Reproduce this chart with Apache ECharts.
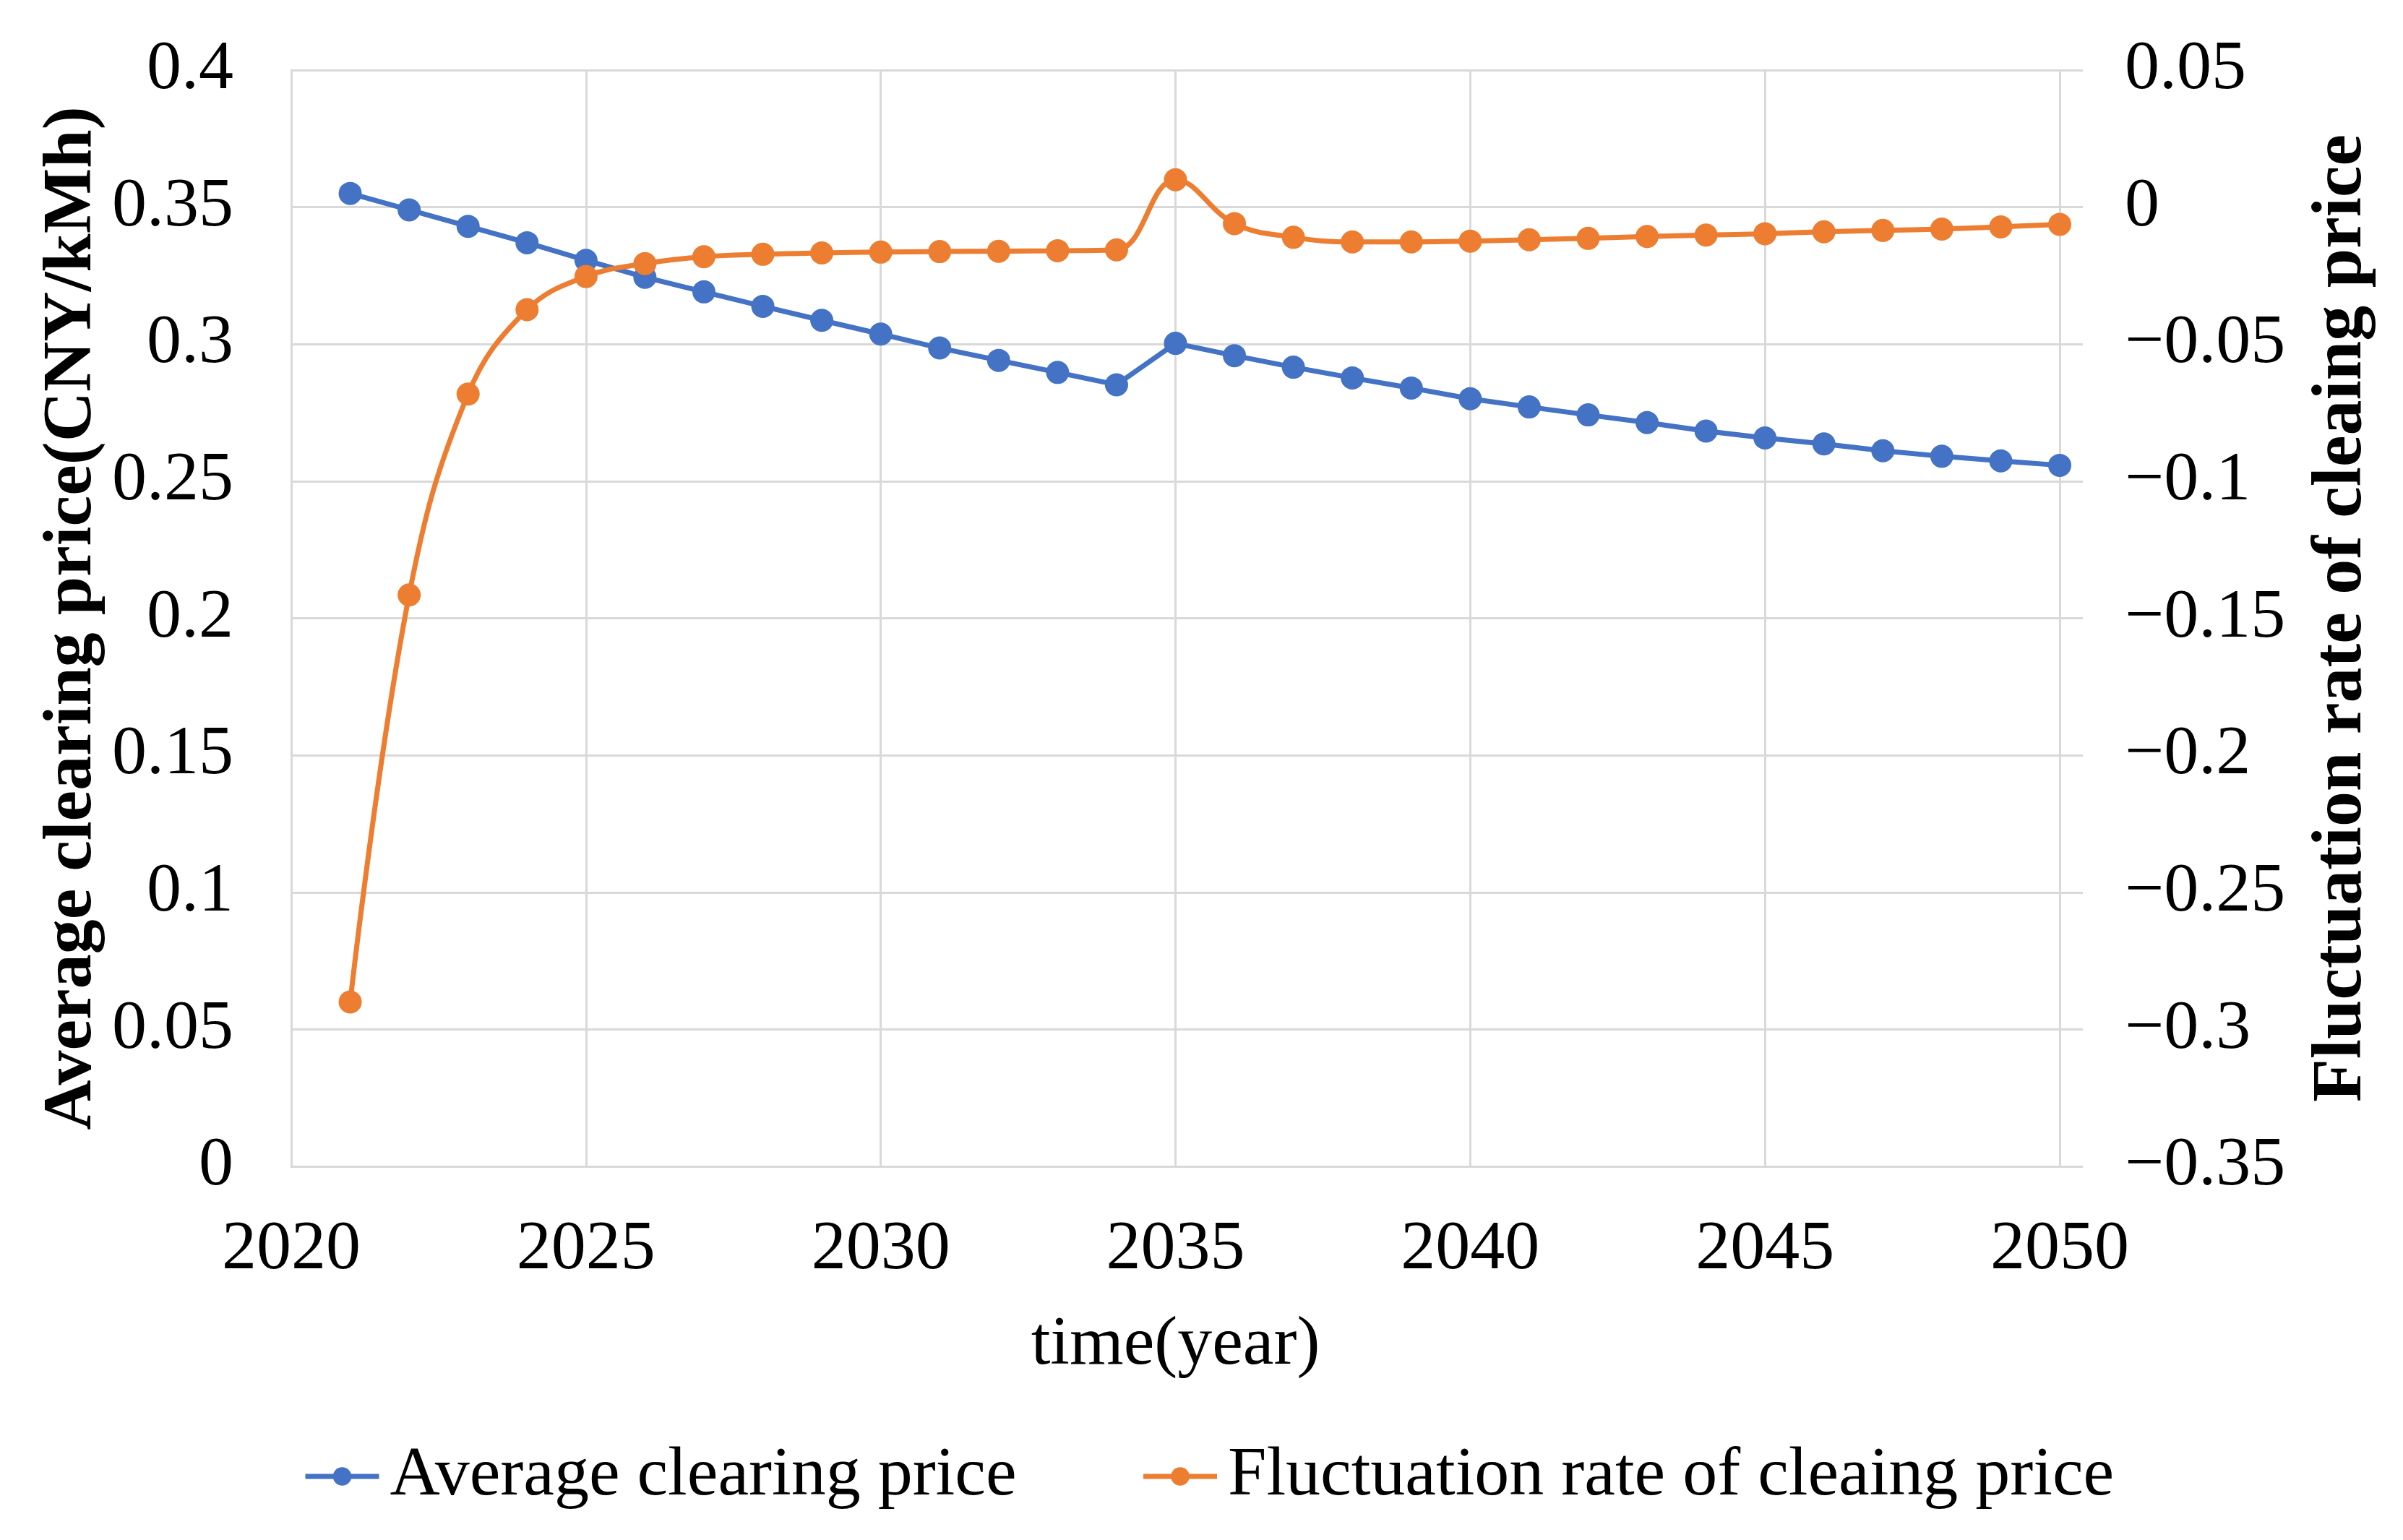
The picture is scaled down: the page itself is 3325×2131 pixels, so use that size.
<!DOCTYPE html>
<html>
<head>
<meta charset="utf-8">
<script src="https://cdn.jsdelivr.net/npm/echarts@6/dist/echarts.min.js"></script>
<style>
html,body{margin:0;padding:0;background:#fff;}
#chart{width:3325px;height:2131px;}
</style>
</head>
<body>
<div id="chart"></div>
<script>
const years = [2021,2022,2023,2024,2025,2026,2027,2028,2029,2030,2031,2032,2033,2034,2035,2036,2037,2038,2039,2040,2041,2042,2043,2044,2045,2046,2047,2048,2049,2050];
const avgPrice = [0.355,0.349,0.343,0.337,0.3306,0.3244,0.3191,0.3138,0.3087,0.3037,0.2986,0.2941,0.2897,0.2852,0.3003,0.2958,0.2916,0.2877,0.2840,0.2801,0.2771,0.2742,0.2714,0.2683,0.2658,0.2636,0.2611,0.2591,0.2574,0.2558];
const fluctRate = [-0.290,-0.1415,-0.0682,-0.0374,-0.0253,-0.0206,-0.0181,-0.0172,-0.0167,-0.0164,-0.0162,-0.0161,-0.0159,-0.0156,0.0100,-0.0060,-0.0110,-0.0127,-0.0127,-0.0124,-0.0119,-0.0114,-0.0107,-0.0102,-0.0097,-0.0090,-0.0085,-0.0080,-0.0072,-0.0063];
const seriesNames = ['Average clearing price','Fluctuation rate of cleaing price'];
const xTitle = 'time(year)';
const leftTitle = 'Average clearing price(CNY/kMh)';
const rightTitle = 'Fluctuation rate of cleaing price';

const FONT = "'Liberation Serif','Times New Roman',serif";
const GRID = '#D9D9D9';
const BLUE = '#4472C4', ORANGE = '#ED7D31';
function fmt(v){
  const s = String(parseFloat(v.toFixed(2)));
  return s.replace('-', '\u2212');
}
const chart = echarts.init(document.getElementById('chart'));
chart.setOption({
  backgroundColor:'#fff',
  animation:false,
  textStyle:{fontFamily:FONT},
  grid:{left:403,right:475,top:97,bottom:517,containLabel:false},
  legend:{
    data:[
      {name:seriesNames[0], itemStyle:{color:BLUE}, lineStyle:{color:BLUE,width:7}},
      {name:seriesNames[1], itemStyle:{color:ORANGE}, lineStyle:{color:ORANGE,width:7}}
    ],
    left:414, top:1990,
    itemWidth:102, itemHeight:32, itemGap:172,
    textStyle:{fontFamily:FONT,fontSize:96,color:'#000',padding:[0,0,0,10]}
  },
  xAxis:{
    type:'value', min:2020, max:2050, interval:5,
    name:xTitle, nameLocation:'middle', nameGap:200,
    nameTextStyle:{fontFamily:FONT,fontSize:96,color:'#000'},
    axisLine:{show:true,lineStyle:{color:GRID,width:3}},
    axisTick:{show:false},
    axisLabel:{fontFamily:FONT,fontSize:96,color:'#000',margin:68,formatter:v=>String(v)},
    splitLine:{show:true,lineStyle:{color:GRID,width:3}}
  },
  yAxis:[{
    type:'value', min:0, max:0.4, interval:0.05, position:'left',
    name:leftTitle, nameLocation:'middle', nameGap:255, nameRotate:90,
    nameMoveOverlap:false,
    nameTextStyle:{fontFamily:FONT,fontSize:96,fontWeight:'bold',color:'#000'},
    axisLine:{show:true,lineStyle:{color:GRID,width:3}},
    axisTick:{show:false},
    axisLabel:{fontFamily:FONT,fontSize:96,color:'#000',margin:80,formatter:fmt},
    splitLine:{show:true,lineStyle:{color:GRID,width:3}}
  },{
    type:'value', min:-0.35, max:0.05, interval:0.05, position:'right',
    name:rightTitle, nameLocation:'middle', nameGap:342, nameRotate:90,
    nameMoveOverlap:false,
    nameTextStyle:{fontFamily:FONT,fontSize:98,fontWeight:'bold',color:'#000'},
    axisLine:{show:false},
    axisTick:{show:true,length:32,lineStyle:{color:GRID,width:3}},
    axisLabel:{fontFamily:FONT,fontSize:96,color:'#000',margin:90,formatter:fmt},
    splitLine:{show:false}
  }],
  series:[{
    name:seriesNames[0], type:'line', yAxisIndex:0,
    data:years.map((y,i)=>[y,avgPrice[i]]),
    symbol:'circle', symbolSize:32,
    lineStyle:{color:BLUE,width:7},
    itemStyle:{color:BLUE}
  },{
    name:seriesNames[1], type:'line', yAxisIndex:1,
    data:years.map((y,i)=>[y,fluctRate[i]]),
    smooth:0.4,
    symbol:'circle', symbolSize:32,
    lineStyle:{color:ORANGE,width:7},
    itemStyle:{color:ORANGE}
  }]
});
</script>
</body>
</html>
